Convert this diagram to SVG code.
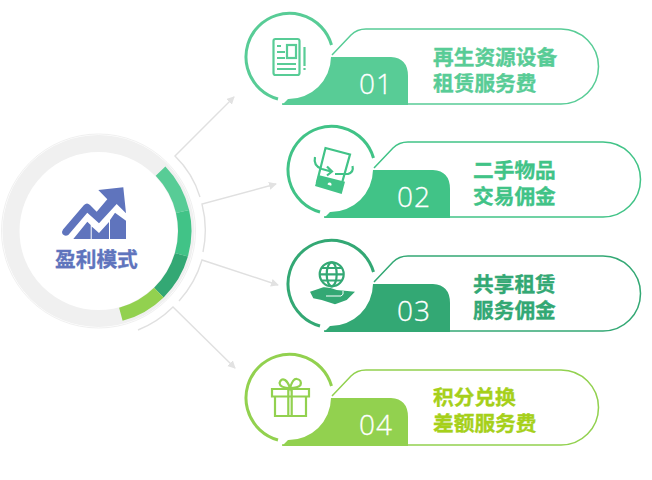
<svg xmlns="http://www.w3.org/2000/svg" width="652" height="480" viewBox="0 0 652 480">
<style>
text{font-family:"Liberation Sans","Noto Sans CJK SC",sans-serif;font-weight:700;font-size:20.700px}
.num{font-family:"Open Sans","Liberation Sans",sans-serif;font-weight:300;font-size:28px;fill:#fff;stroke:#fff;stroke-width:.3;letter-spacing:1px}
.ln{fill:none;stroke:#e0e0e0;stroke-width:1.4}
.c1{--c:#58cc96}.c2{--c:#41c387}.c3{--c:#33a874}.c4{--c:#92d14f}
.rim{fill:none;stroke:var(--c);stroke-width:3}
.pill{fill:#fff;stroke:var(--c);stroke-width:1.5}
.tab{fill:var(--c)}
.ic{fill:none;stroke:var(--c);stroke-width:2.2}
.if{fill:var(--c)}
.lb{fill:var(--c);stroke:var(--c);stroke-width:.35}
</style>
<defs>
<marker id="ah" markerWidth="10" markerHeight="10" refX="7" refY="4" orient="auto" markerUnits="userSpaceOnUse"><path d="M0 0L8 4L0 8Z" fill="#e2e2e2"/></marker>
<g id="frame">
<path class="pill" d="M332 55L351 35Q357 29 366 29H561A37.500 37.500 0 0 1 561 104H282"/>
<path class="tab" d="M282 105L288 99A42.500 42.500 0 0 0 331 57H391Q408 58 408 76V105Z"/>
<path class="rim" d="M331.500 45A43.600 43.600 0 1 0 278 99"/>
</g>
</defs>
<g id="connectors">
<path class="ln" d="M200 197A96 96 0 0 0 175 156L234 97" marker-end="url(#ah)"/>
<path class="ln" d="M203 252A105 105 0 0 0 202 204L276 184" marker-end="url(#ah)"/>
<path class="ln" d="M179 301A105 105 0 0 0 202 260L278 285" marker-end="url(#ah)"/>
<path class="ln" d="M138 330A105 105 0 0 0 173 307L235 368" marker-end="url(#ah)"/>
</g>
<g id="hub">
<circle cx="98.500" cy="231" r="87.500" fill="none" stroke="#f0f0f0" stroke-width="17"/>
<circle cx="98.500" cy="231" r="97" fill="none" stroke="#f0f0f0" stroke-width="1"/>
<path d="M165.400 166.400A93 93 0 0 1 189.100 210.100L176 213.100A79.500 79.500 0 0 0 155.700 175.800Z" fill="#58cc96"/>
<path d="M189.100 210.100A93 93 0 0 1 187.900 256.600L174.900 252.900A79.500 79.500 0 0 0 176 213.100Z" fill="#41c387"/>
<path d="M187.900 256.600A93 93 0 0 1 163.600 297.400L154.100 287.800A79.500 79.500 0 0 0 174.900 252.900Z" fill="#33a874"/>
<path d="M163.600 297.400A93 93 0 0 1 122.600 320.800L119.100 307.800A79.500 79.500 0 0 0 154.100 287.800Z" fill="#92d14f"/>
<g fill="#5f74bd">
<path d="M98.300 190L123.300 187.300L126 213.300L116.700 204L99 223.300L87.300 212.700L68.300 235Q65 237 62.500 234Q61.500 231.500 63 229.500L84 205Q87 202 90 205L96.700 211.700L107.300 199.300Z"/>
<path d="M73.300 239L87.300 221.700L90.700 225V239ZM91.700 239V226.500L99 233L109 222V239ZM110 239V220L115 212.700L126 220.700V239Z"/>
</g>
<text x="55" y="267" fill="#5f74bd" stroke="#5f74bd" stroke-width=".35">盈利模式</text>
</g>
<g id="node1" class="c1"><use href="#frame"/>
<rect x="273.500" y="39" width="26" height="36" rx="2" class="ic"/>
<path class="ic" d="M277 46H281M277 52H285M277 58H285M277 64H296M277 69H296M304.500 47V66M304.500 68V70"/><rect x="287" y="45" width="9" height="13" class="ic"/>
<text class="num" x="359" y="94">01</text>
<text class="lb"><tspan x="433" y="64.500">再生资源设备</tspan><tspan x="433" y="90.500">租赁服务费</tspan></text></g>
<g id="node2" class="c2"><g transform="translate(42 113)"><use href="#frame"/></g>
<path class="ic" d="M325.500 148L350 154.500L340 190L317 182Z"/><path class="if" d="M318.300 175L345 181.700L341.700 194L315 186ZM329.500 182.500a2 2 0 1 0 .1 0Z" fill-rule="evenodd"/>
<path class="ic" d="M315 157Q313 166 322 169L331 171.500M327 166.500L332 171.500L327 175.500M335 174H348Q354 172 352.500 166"/>
<text class="num" x="397" y="207">02</text>
<text class="lb"><tspan x="473" y="177.500">二手物品</tspan><tspan x="473" y="203.500">交易佣金</tspan></text></g>
<g id="node3" class="c3"><g transform="translate(42 227)"><use href="#frame"/></g>
<circle cx="331.700" cy="274.300" r="12" class="ic"/><ellipse cx="331.700" cy="274.300" rx="5" ry="12" class="ic"/><path class="ic" d="M320 274.300H343.500M322 268H341.500M322 280.500H341.500"/>
<path class="if" d="M310 291.700L323.300 287.300Q330 287 336.700 290L355 291.700L346.700 300L335 304.300L321.700 300L313.300 298.300Z"/>
<path d="M326 296H341Q344 295 343 291" fill="none" stroke="#fff"/>
<text class="num" x="397" y="321">03</text>
<text class="lb"><tspan x="473" y="291.500">共享租赁</tspan><tspan x="473" y="317.500">服务佣金</tspan></text></g>
<g id="node4" class="c4"><g transform="translate(0 341)"><use href="#frame"/></g>
<path class="ic" d="M272 389H309V396.500H272ZM275 396.500V416H306V396.500M288.300 389V416M291.700 389V416M290 388Q280 388 279.500 383Q281 378 285 380Q288 382 290 388Q293 378 297 379Q302 380 300.500 385Q298 388 290 388"/>
<text class="num" x="359" y="435">04</text>
<text class="lb" style="fill:#a6d01a;stroke:#a6d01a"><tspan x="433" y="405">积分兑换</tspan><tspan x="433" y="431">差额服务费</tspan></text></g>
</svg>
